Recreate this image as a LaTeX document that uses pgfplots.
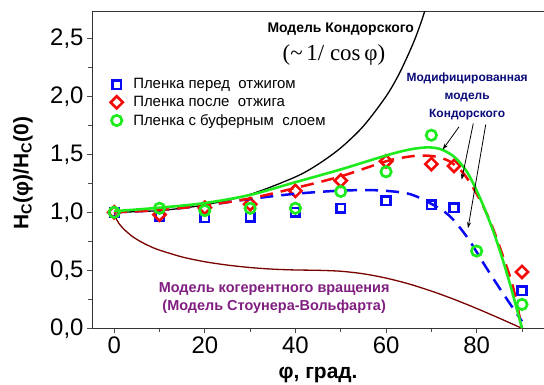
\documentclass[border=0pt]{standalone}
\usepackage{pgfplots}
\pgfplotsset{compat=1.18}
\usepackage{fontspec}
\setmainfont{Liberation Sans}
\newfontfamily\seriffont{Liberation Serif}
\usetikzlibrary{arrows.meta}
\definecolor{cblue}{RGB}{10,10,245}
\definecolor{cred}{RGB}{245,10,10}
\definecolor{cgreen}{RGB}{30,235,30}
\definecolor{cmaroon}{RGB}{120,0,0}
\definecolor{cpurple}{RGB}{128,30,128}
\definecolor{cnavy}{RGB}{10,10,120}

\pgfplotstableread{
x y
0 1.00
10 0.964
20 0.953
30 0.958
40 1.00
50 1.035
60 1.10
70 1.067
75 1.039
90 0.323
}\before
\pgfplotstableread{
x y
0 1.00
10 0.98
20 1.04
30 1.07
40 1.185
50 1.273
60 1.44
70 1.416
75 1.40
90 0.486
}\after
\pgfplotstableread{
x y
0 1.00
10 1.035
20 1.015
30 1.035
40 1.035
50 1.18
60 1.35
70 1.665
80 0.666
90 0.206
}\buffer

\begin{document}
\begin{tikzpicture}
\useasboundingbox (0,0) rectangle (544bp,385bp);
\begin{axis}[
  at={(92bp,56.7bp)}, anchor=south west,
  scale only axis, width=454bp, height=316.6bp,
  xmin=-4.9, xmax=95.3, ymin=0, ymax=2.73,
  xtick={0,20,40,60,80}, minor xtick={10,30,50,70,90},
  ytick={0,0.5,1,1.5,2,2.5}, minor ytick={0.25,0.75,1.25,1.75,2.25},
  tick pos=left, tick align=outside,
  major tick length=5bp, minor tick length=4bp,
  every tick/.style={black!70, line width=0.8bp},
  axis line style={line width=1bp, black!80},
  /pgf/number format/assume math mode=true,
  ticklabel style={font=\fontsize{24}{28}\selectfont},
  yticklabel style={/pgf/number format/.cd, use comma, fixed, fixed zerofill, precision=1},
  xlabel={φ, град.},
  ylabel={H\textsubscript{C}(φ)/H\textsubscript{C}(0)},
  label style={font=\fontsize{21}{24}\selectfont\bfseries},
  xlabel style={at={(axis description cs:0.498,-0.1475)}, anchor=center},
  ylabel style={at={(axis description cs:-0.152,0.49)}, anchor=center},
  clip mode=individual,
  legend style={draw=none, fill=none, at={(axis description cs:0.034,0.80)}, anchor=north west,
    font=\fontsize{15}{18}\selectfont, row sep=3bp,
    nodes={inner sep=1.5bp},
    /tikz/every odd column/.append style={column sep=9bp}},
  legend cell align=left,
]
% Kondorsky 1/cos
\addplot[black, line width=1.3bp, smooth, forget plot] coordinates {
(0,1) (10,1.0154) (20,1.0642) (30,1.1547) (40,1.3054) (45,1.4142) (50,1.5557)
(55,1.7434) (60,2.0) (63,2.2027) (66,2.4586) (68,2.6695) (70,2.9238)};
% Stoner-Wohlfarth
\addplot[cmaroon, line width=1.3bp, smooth, forget plot] coordinates {
(0,1) (0.5,0.94) (1,0.907) (2,0.86) (4,0.792) (6,0.744) (8,0.705) (10,0.674)
(15,0.615) (20,0.574) (25,0.545) (30,0.524) (35,0.510) (40,0.503) (45,0.5)
(50,0.492) (55,0.47) (60,0.433) (65,0.383) (70,0.321) (75,0.25) (80,0.171)
(85,0.087) (90,0)};
% markers
\addplot[only marks, mark=square, mark size=4.3bp, cblue, line width=2.6bp] table {\before};
\addplot[only marks, mark=square, mark size=4.3bp, mark options={rotate=45}, cred, line width=2.6bp] table {\after};
% dashed fits
\addplot[cblue, line width=2.5bp, dash pattern=on 13bp off 8bp, smooth, forget plot] coordinates {
(0,1.0) (10,1.02) (20,1.06) (30,1.115) (40,1.16) (50,1.187) (58,1.19) (65,1.16)
(70,1.073) (74,0.97) (78,0.78) (82,0.53) (86,0.29) (88.8,0.13) (90,0.06)};
\addplot[cred, line width=2.5bp, dash pattern=on 13bp off 8bp, smooth, forget plot] coordinates {
(0,1.0) (10,1.02) (20,1.06) (30,1.12) (40,1.21) (50,1.31) (60,1.44) (65,1.48)
(68,1.49) (71,1.48) (74,1.44) (77,1.34) (80,1.16) (83,0.92) (86,0.6) (88,0.36) (90,0)};
\addplot[only marks, mark=o, mark size=5.2bp, cgreen, line width=2.7bp] table {\buffer};
\addplot[cgreen, line width=2.6bp, smooth, forget plot] coordinates {
(0,1.01) (10,1.04) (20,1.08) (30,1.15) (40,1.26) (50,1.37) (60,1.49) (65,1.54)
(69,1.56) (72,1.545) (75,1.48) (78,1.34) (81,1.1) (84,0.8) (87,0.43) (90,0)};
\legend{Пленка перед\ \ отжигом, Пленка после\ \ отжига, Пленка с буферным\ \ слоем}
% annotations
\node[font=\fontsize{14}{16}\selectfont\bfseries] at (axis cs:50,2.58) {Модель Кондорского};
\node[font=\fontsize{23}{26}\selectfont\seriffont] at (axis cs:48.5,2.356) {(\textasciitilde\,1/ cos\,φ)};
\node[font=\fontsize{12}{18}\selectfont\bfseries, text=cnavy, align=center] at (axis cs:77.9,2.0)
  {Модифицированная\\модель\\Кондорского};
\node[font=\fontsize{14.5}{18}\selectfont\bfseries, text=cpurple, align=center] at (axis cs:35.3,0.261)
  {Модель когерентного вращения\\(Модель Стоунера-Вольфарта)};
\draw[-{Stealth[length=6bp,width=4bp]}, line width=0.8bp] (axis cs:76.1,1.737) -- (axis cs:72.5,1.541);
\draw[-{Stealth[length=6bp,width=4bp]}, line width=0.8bp] (axis cs:79.25,1.766) -- (axis cs:76.7,1.282);
\draw[-{Stealth[length=6bp,width=4bp]}, line width=0.8bp] (axis cs:82.0,1.757) -- (axis cs:78.1,0.864);
\end{axis}
\end{tikzpicture}
\end{document}
